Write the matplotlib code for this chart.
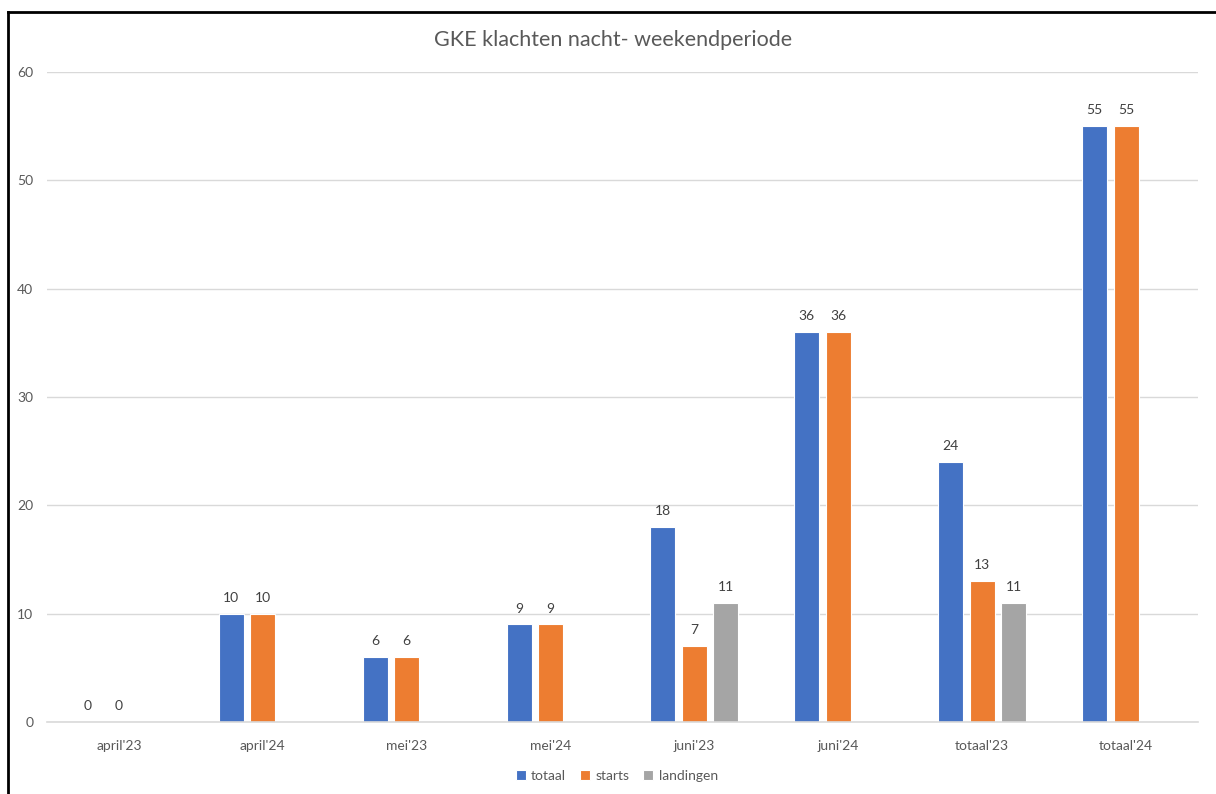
import matplotlib.pyplot as plt
from matplotlib.lines import Line2D
import numpy as np

plt.rcParams['font.family'] = ['Lato', 'DejaVu Sans']

categories = ["april'23", "april'24", "mei'23", "mei'24", "juni'23", "juni'24", "totaal'23", "totaal'24"]
totaal = [0, 10, 6, 9, 18, 36, 24, 55]
starts = [0, 10, 6, 9, 7, 36, 13, 55]
landingen = [np.nan, np.nan, np.nan, np.nan, 11, np.nan, 11, np.nan]

series = [("totaal", totaal, "#4472C4"),
          ("starts", starts, "#ED7D31"),
          ("landingen", landingen, "#A5A5A5")]

fig = plt.figure(figsize=(12.16, 7.94), dpi=100)
ax = fig.add_axes([0.0387, 0.0907, 0.9465, 0.8186])

x = np.arange(len(categories))
width = 0.174
step = 0.219
for i, (name, vals, col) in enumerate(series):
    vals = np.array(vals, dtype=float)
    bars = ax.bar(x + (i - 1) * step, vals, width, color=col, label=name,
                  edgecolor='white', linewidth=0.8, zorder=3)
    for b, v in zip(bars, vals):
        if not np.isnan(v):
            ax.text(b.get_x() + b.get_width() / 2, v + 0.9, "%d" % v,
                    ha='center', va='bottom', fontsize=10, color='#404040')

ax.set_xlim(-0.5, len(categories) - 0.5)
ax.set_ylim(0, 60)
ax.set_yticks(range(0, 61, 10))
ax.set_xticks(x)
ax.set_xticklabels(categories)
ax.tick_params(axis='both', length=0, labelsize=10, labelcolor='#595959')
ax.tick_params(axis='x', pad=13)
ax.tick_params(axis='y', pad=10)
ax.grid(axis='y', color='#D9D9D9', linewidth=1, zorder=0)
for s in ['top', 'right', 'left']:
    ax.spines[s].set_visible(False)
ax.spines['bottom'].set_color('#D9D9D9')
ax.spines['bottom'].set_linewidth(1.2)
ax.spines['bottom'].set_zorder(4)

fig.text(0.504, 0.949, "GKE klachten nacht- weekendperiode", ha='center', va='center',
         fontsize=15.5, color='#595959')

ax.legend(loc='center', bbox_to_anchor=(0.495, -0.083), ncol=3, frameon=False,
          fontsize=10, labelcolor='#595959', handlelength=0.7, handleheight=0.7,
          handletextpad=0.4, columnspacing=1.0)

# frame lines from the screenshot
fig.add_artist(Line2D([8 / 1216, 1], [1 - 12 / 794, 1 - 12 / 794], color='black', linewidth=2,
                      transform=fig.transFigure))
fig.add_artist(Line2D([8 / 1216, 8 / 1216], [0, 1 - 12 / 794], color='black', linewidth=2,
                      transform=fig.transFigure))

fig.savefig("out.png", dpi=100)
